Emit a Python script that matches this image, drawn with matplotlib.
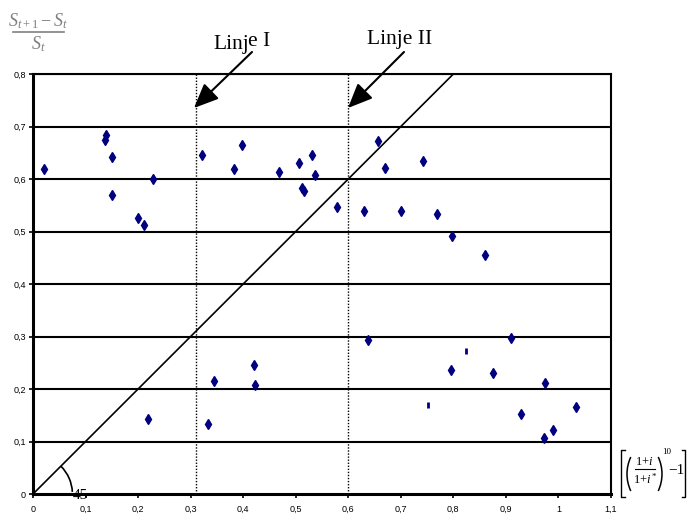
import matplotlib
matplotlib.use("Agg")
import matplotlib.pyplot as plt
from matplotlib.patches import Arc
from matplotlib.lines import Line2D

# Data
x_vals = [0.021, 0.139, 0.137, 0.150, 0.229, 0.150, 0.200, 0.211, 0.322, 0.398,
          0.383, 0.469, 0.507, 0.531, 0.537, 0.512, 0.516, 0.657, 0.669, 0.743,
          0.579, 0.630, 0.701, 0.768, 0.798, 0.861, 0.638, 0.421, 0.345, 0.423,
          0.219, 0.333, 0.796, 0.910, 0.876, 0.975, 1.034, 0.928, 0.990, 0.973]
y_vals = [0.620, 0.684, 0.675, 0.641, 0.600, 0.570, 0.526, 0.512, 0.646, 0.664,
          0.620, 0.614, 0.631, 0.646, 0.608, 0.583, 0.577, 0.673, 0.621, 0.635,
          0.547, 0.539, 0.539, 0.533, 0.491, 0.455, 0.293, 0.245, 0.216, 0.208,
          0.143, 0.134, 0.237, 0.298, 0.231, 0.212, 0.166, 0.153, 0.122, 0.107]
x_small = [0.752, 0.825]
y_small = [0.170, 0.272]

line_I = 0.31
line_II = 0.60
diag = [0.0, 0.8]

x_ticks = [0, 0.1, 0.2, 0.3, 0.4, 0.5, 0.6, 0.7, 0.8, 0.9, 1.0, 1.1]
x_labels = ["0", "0,1", "0,2", "0,3", "0,4", "0,5", "0,6", "0,7", "0,8", "0,9", "1", "1,1"]
y_ticks = [0, 0.1, 0.2, 0.3, 0.4, 0.5, 0.6, 0.7, 0.8]
y_labels = ["0", "0,1", "0,2", "0,3", "0,4", "0,5", "0,6", "0,7", "0,8"]

plt.rcParams['font.family'] = ['Liberation Sans', 'DejaVu Sans']
plt.rcParams['mathtext.fontset'] = 'custom'
plt.rcParams['mathtext.rm'] = 'Liberation Serif'
plt.rcParams['mathtext.it'] = 'Liberation Serif:italic'

W, H = 687, 516
fig = plt.figure(figsize=(6.87, 5.16), dpi=100)
ax = fig.add_axes([33/W, 22/H, 578/W, 420/H])
ax.set_xlim(0, 1.1)
ax.set_ylim(0, 0.8)


def ptxt(x, y, s, **kw):
    """Text placed at pixel position (from top-left)."""
    return fig.text(x / W, 1 - y / H, s, **kw)


def pline(xs, ys, **kw):
    fig.add_artist(Line2D([v / W for v in xs], [1 - v / H for v in ys],
                          transform=fig.transFigure, **kw))


def parc(cx, cy, r, t1, t2, **kw):
    fig.add_artist(Arc((cx / W, 1 - cy / H), 2 * r / W, 2 * r / H, theta1=t1, theta2=t2,
                       transform=fig.transFigure, **kw))


for y in y_ticks[1:]:
    ax.axhline(y, color='black', lw=1.5, zorder=1)

ax.plot(diag, diag, color='black', lw=1.2, zorder=2)
ax.axvline(line_I, color='black', lw=1.0, ls=(0, (1, 1.2)), zorder=2)
ax.axvline(line_II, color='black', lw=1.0, ls=(0, (1, 1.2)), zorder=2)

ax.plot(x_vals, y_vals, ls='none', marker='d', markersize=5.2,
        color='#000080', zorder=3)
ax.plot(x_small, y_small, ls='none', marker='|', markersize=4.5, mew=2,
        color='#000080', zorder=3)

for s in ax.spines.values():
    s.set_linewidth(1.5)
ax.spines['left'].set_linewidth(2.2)
ax.spines['bottom'].set_linewidth(2.2)

ax.set_xticks(x_ticks)
ax.set_xticklabels(x_labels, fontsize=6.5)
ax.set_yticks(y_ticks)
ax.set_yticklabels(y_labels, fontsize=6.5)
ax.tick_params(axis='both', direction='out', length=3, width=1.2, pad=2)
ax.tick_params(axis='x', pad=5)

# 45 degree arc
arc = Arc((0, 0), 0.15, 0.15, angle=0, theta1=3, theta2=45, color='black', lw=1.2, zorder=2)
ax.add_patch(arc)
ax.text(0.076, -0.003, "45", fontsize=11, family='Liberation Serif', va='center', ha='left',
        clip_on=False, zorder=4)

# Annotations
ptxt(213, 49, "Linj", fontsize=15.5, family='Liberation Serif', ha='left', va='baseline')
ptxt(248, 46, "e I", fontsize=15.5, family='Liberation Serif', ha='left', va='baseline')
ptxt(400, 44, "Linje II", fontsize=15.5, family='Liberation Serif', ha='center', va='baseline')

arrowprops = dict(arrowstyle='-|>,head_length=1.5,head_width=0.65', color='black', lw=1.5,
                  shrinkA=0, shrinkB=0)
ax.annotate("", xy=(194/W, 1 - 108/H), xycoords='figure fraction',
            xytext=(252/W, 1 - 52/H), textcoords='figure fraction', arrowprops=arrowprops,
            annotation_clip=False)
ax.annotate("", xy=(348/W, 1 - 108/H), xycoords='figure fraction',
            xytext=(404/W, 1 - 52/H), textcoords='figure fraction', arrowprops=arrowprops,
            annotation_clip=False)

# Y-axis label: (S_{t+1} - S_t) / S_t, in gray
gray = '#808080'
ptxt(38, 21, r'$S_{t+1}-S_t$', fontsize=13, color=gray, ha='center', va='center')
pline([13, 64], [32, 32], color=gray, lw=1.2)
ptxt(38, 44, r'$S_t$', fontsize=13, color=gray, ha='center', va='center')

# X-axis label: [ ((1+i)/(1+i*))^10 - 1 ]
pline([625, 621, 621, 625], [450, 450, 497, 497], color='black', lw=1.0)
parc(667, 474, 40, 148, 212, color='black', lw=1.1)
ptxt(644, 462, r'$1\!+\!i$', fontsize=9, ha='center', va='center')
pline([635, 655], [469, 469], color='black', lw=0.8)
ptxt(645, 479, r'$1\!+\!i^{*}$', fontsize=9, ha='center', va='center')
parc(622, 474, 40, -32, 32, color='black', lw=1.1)
ptxt(667, 452, "10", fontsize=6.5, family='Liberation Serif', ha='center', va='center')
ptxt(676, 470, "\u22121", fontsize=11, family='Liberation Serif', ha='center', va='center')
pline([682, 685, 685, 682], [450, 450, 497, 497], color='black', lw=1.0)

fig.savefig("out.png", dpi=100)
